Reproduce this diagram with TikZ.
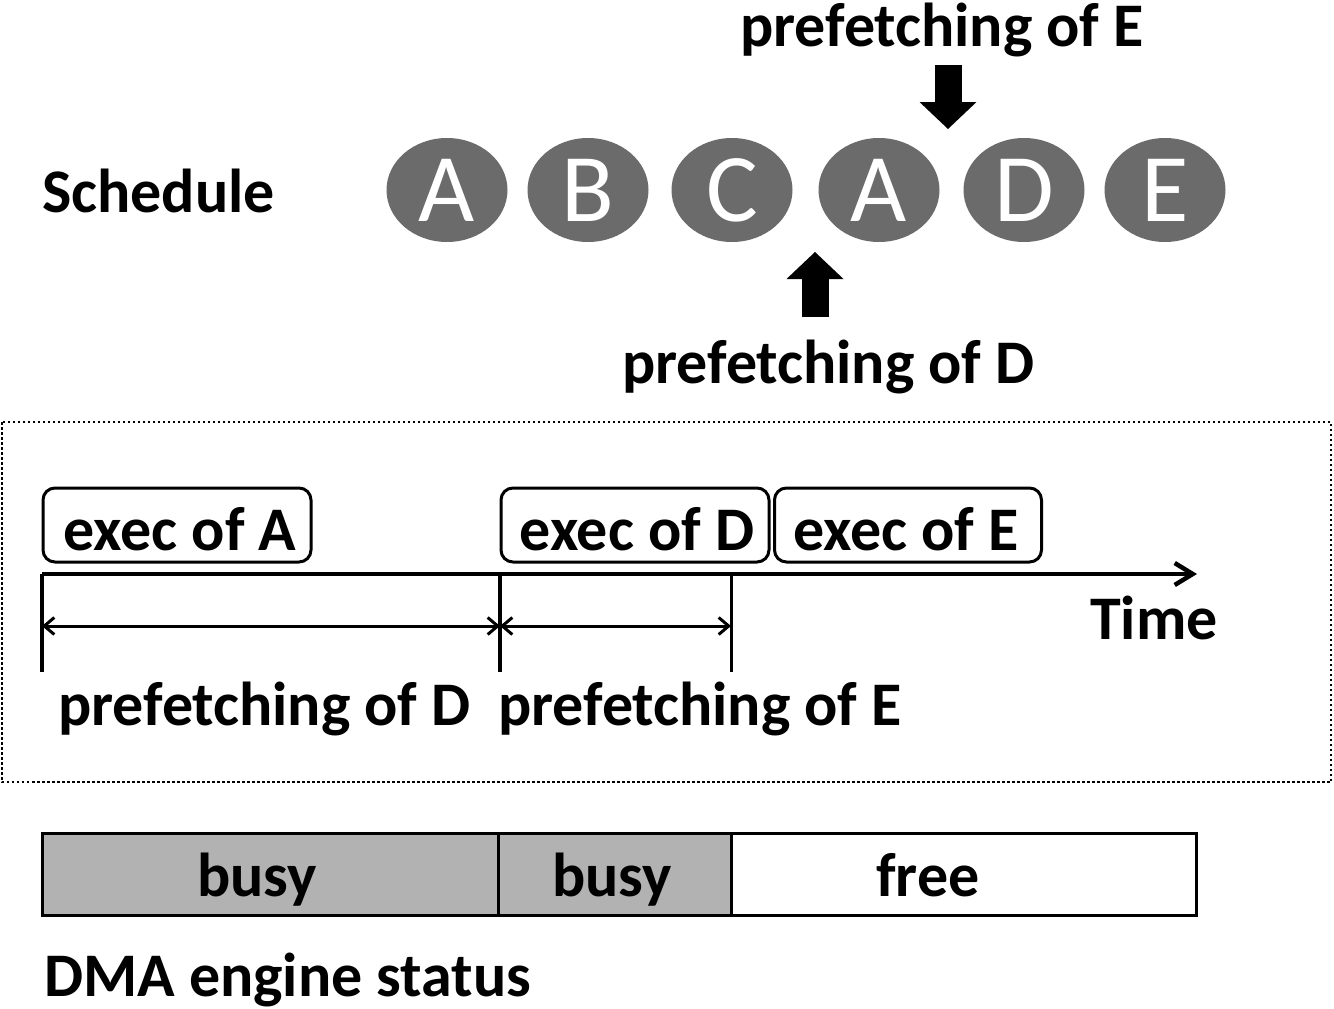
\documentclass[tikz,border=0pt]{standalone}
\usepackage{fontspec}
\setmainfont{Carlito}
\usepackage{xcolor}
\usetikzlibrary{arrows.meta,shapes.geometric}

\definecolor{taskgray}{RGB}{107,107,107}
\definecolor{busygray}{RGB}{178,178,178}

\tikzset{
  bigtext/.style={font=\bfseries\fontsize{62}{70}\selectfont, inner sep=0pt},
  task/.style={ellipse, fill=taskgray, minimum width=121pt, minimum height=104pt,
    inner sep=0pt, text=white, font=\fontsize{97}{110}\selectfont},
  execbox/.style={draw, line width=3pt, rounded corners=12pt, minimum width=268pt,
    minimum height=74pt, inner sep=0pt},
  statebox/.style={draw, line width=3pt, minimum height=82pt, inner sep=0pt},
  pointer/.style={line width=27pt, -{Triangle[length=27pt,width=57pt,line width=0pt]}}
}

\begin{document}
\begin{tikzpicture}[x=1pt,y=-1pt]
\useasboundingbox (0,0) rectangle (1334,1009);

    % schedule
    \node[bigtext,anchor=base west] (sched) at (42,212) {Schedule};
    \node[task] (sA) at (447,190) {A};
    \node[task] (sB) at (588,190) {B};
    \node[task] (sC) at (732,190) {C};
    \node[task] (sA2) at (879,190) {A};
    \node[task] (sD) at (1024,190) {D};
    \node[task] (sE) at (1165,190) {E};

    \node[bigtext,anchor=base west] (pfEtop) at (740,46) {prefetching of E};
    \coordinate (arrEtop) at (948,65);
    \coordinate (arrEtip) at (948,129);
    \draw[pointer] (arrEtop) -- (arrEtip);

    \node[bigtext,anchor=base west] (pfDtop) at (622,383) {prefetching of D};
    \coordinate (arrDbot) at (815,317);
    \coordinate (arrDtip) at (815,252);
    \draw[pointer] (arrDbot) -- (arrDtip);

    % time line
    \draw[black,line width=2.5pt,dash pattern=on 2.5pt off 2.5pt] (2,422) rectangle (1331,782);

    \node[execbox] (exA) at (177,525) {};
    \node[execbox] (exD) at (635,525) {};
    \node[execbox,minimum width=267pt] (exE) at (908,525) {};
    \node[bigtext] (exAtxt) at (180,529) {exec of A};
    \node[bigtext] (exDtxt) at (637,529) {exec of D};
    \node[bigtext] (exEtxt) at (906,529) {exec of E};

    \coordinate (t0) at (42,574);
    \coordinate (t1) at (500,574);
    \coordinate (t2) at (731,574);
    \coordinate (tend) at (1197,574);
    \draw[black,line width=4.5pt,-{Straight Barb[length=18pt,width=22pt]}] (t0) -- (tend);
    \node[bigtext,anchor=base west] (time) at (1090,639) {Time};

    \coordinate (b0) at (42,672);
    \coordinate (b1) at (500,672);
    \coordinate (b2) at (731,672);
    \draw[black,line width=4pt] (t0) -- (b0);
    \draw[black,line width=4pt] (t1) -- (b1);
    \draw[black,line width=3pt] (t2) -- (b2);

    \coordinate (m0) at (42,626);
    \coordinate (m1) at (500,626);
    \coordinate (m2) at (731,626);
    \begin{scope}[line width=3pt,{Straight Barb[length=10pt,width=17pt]}-{Straight Barb[length=10pt,width=17pt]}]
    \draw (m0) -- (m1);
    \draw (m1) -- (m2);
    \end{scope}

    \node[bigtext,anchor=base west] (pfD) at (58,725) {prefetching of D};
    \node[bigtext,anchor=base west] (pfE) at (498,725) {prefetching of E};

    % DMA engine
    \node[statebox,fill=busygray,minimum width=456pt] (busyD) at (270,874) {};
    \node[statebox,fill=busygray,minimum width=233pt] (busyE) at (614.5,874) {};
    \node[statebox,fill=white,minimum width=465pt] (free) at (963.5,874) {};
    \node[bigtext,anchor=base] (busyDtxt) at (257,896) {busy};
    \node[bigtext,anchor=base] (busyEtxt) at (612,896) {busy};
    \node[bigtext,anchor=base] (freetxt) at (928,896) {free};

    \node[bigtext,anchor=base west] (dma) at (44,996) {DMA engine status};

\end{tikzpicture}
\end{document}
